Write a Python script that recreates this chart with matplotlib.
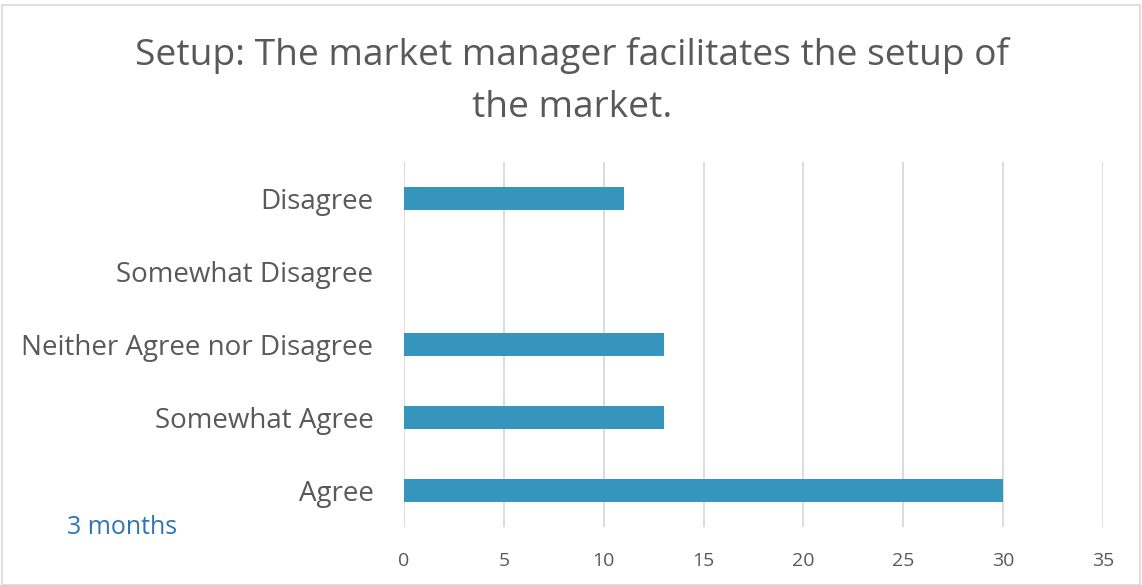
import matplotlib.pyplot as plt
from matplotlib.patches import Rectangle

# data
categories = ["Agree", "Somewhat Agree", "Neither Agree nor Disagree",
              "Somewhat Disagree", "Disagree"]
values_3m = [30, 13, 13, 0, 11]
xticks = [0, 5, 10, 15, 20, 25, 30, 35]

plt.rcParams['font.family'] = ['Open Sans', 'DejaVu Sans']
text_grey = "#595959"
bar_blue = "#3595BD"

fig = plt.figure(figsize=(11.42, 5.85), dpi=100)
ax = fig.add_axes([0.3538, 0.0991, 0.612, 0.624])

ax.barh(range(len(categories)), values_3m, height=0.31, color=bar_blue,
        label="3 months", zorder=3)

ax.set_xlim(0, 35)
ax.set_ylim(-0.5, len(categories) - 0.5)
ax.set_xticks(xticks)
ax.set_yticks(range(len(categories)))
ax.set_yticklabels(categories)
ax.tick_params(axis="both", length=0, colors=text_grey)
ax.tick_params(axis="y", labelsize=20, pad=22)
ax.tick_params(axis="x", labelsize=14, pad=18)
ax.grid(axis="x", color="#d9d9d9", linewidth=1.3, zorder=0)
for s in ax.spines.values():
    s.set_visible(False)

fig.text(0.501, 0.905, "Setup: The market manager facilitates the setup of",
         ha="center", va="center", fontsize=26.7, color=text_grey)
fig.text(0.501, 0.815, "the market.",
         ha="center", va="center", fontsize=26.7, color=text_grey)

fig.text(0.107, 0.098, "3 months", ha="center", va="center",
         fontsize=18, color="#2E75B6")

fig.patches.append(Rectangle((0.002, 0.0), 0.996, 0.992, transform=fig.transFigure,
                             fill=False, edgecolor="#d9d9d9", linewidth=1.2))

fig.savefig("out.png", dpi=100)
